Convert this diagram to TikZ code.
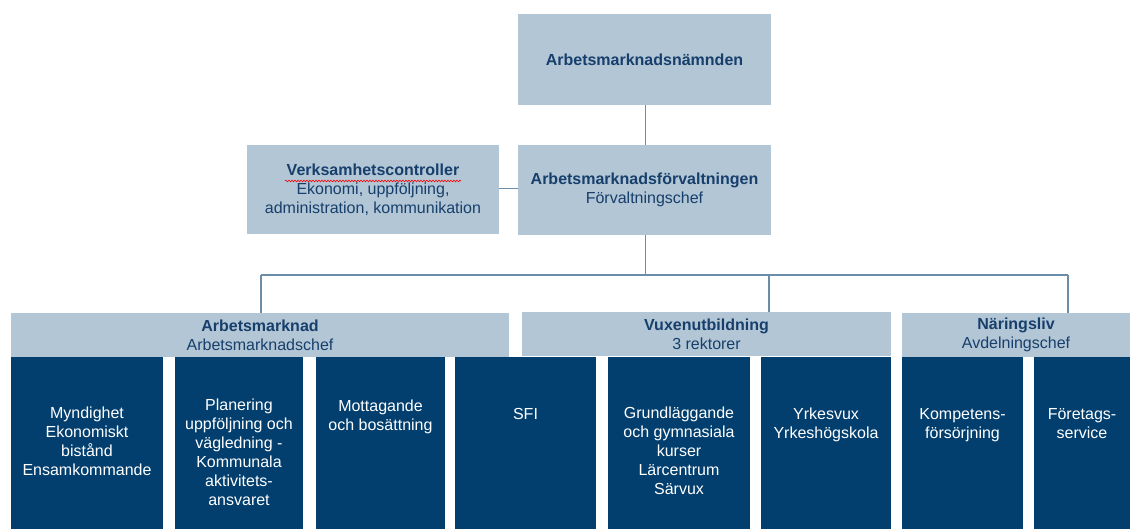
\documentclass[tikz,border=0pt]{standalone}
\usepackage{fontspec}
\setmainfont{Liberation Sans}
\usetikzlibrary{decorations.pathmorphing}
\definecolor{lightbox}{HTML}{B2C6D5}
\definecolor{darkbox}{HTML}{023F6E}
\definecolor{navytext}{HTML}{173F6C}
\definecolor{linkcol}{HTML}{6A8DAA}
\begin{document}
\begin{tikzpicture}[x=1pt,y=-1pt,
  lbox/.style={fill=lightbox,draw=none,inner sep=0pt,text=navytext,align=center,
    font=\fontsize{16}{19}\selectfont},
  dbox/.style={fill=darkbox,draw=none,inner sep=0pt,minimum height=172pt},
  dtext/.style={anchor=north,inner sep=0pt,text=white,align=center,
    font=\fontsize{16}{19}\selectfont},
  link/.style={draw=linkcol,line width=1.8pt},
  squiggle/.style={draw=red,line width=0.6pt,decorate,
    decoration={snake,amplitude=0.8pt,segment length=3pt}}]
\useasboundingbox (0,0) rectangle (1130,529);
% top level
\node[lbox,minimum width=253pt,minimum height=91pt] (nam) at (644.5,59.5) {\textbf{Arbetsmarknadsnämnden}};
\node[lbox,minimum width=253pt,minimum height=90pt] (forv) at (644.5,190)
  {\textbf{Arbetsmarknadsförvaltningen}\\Förvaltningschef};
\node[lbox,minimum width=252pt,minimum height=89pt] (ctrl) at (373,189.5)
  {\textbf{Verksamhetscontroller}\\Ekonomi, uppföljning,\\administration, kommunikation};
% headers
\node[lbox,minimum width=498pt,minimum height=44pt] (h1) at (260,335) {\textbf{Arbetsmarknad}\\Arbetsmarknadschef};
\node[lbox,minimum width=369pt,minimum height=44pt] (h2) at (706.5,334) {\textbf{Vuxenutbildning}\\3 rektorer};
\node[lbox,minimum width=228pt,minimum height=44pt] (h3) at (1016,335) {\textbf{Näringsliv}\\Avdelningschef};
% dark boxes
\node[dbox,minimum width=152pt] (d1) at (87,443) {};
\node[dbox,minimum width=128pt] (d2) at (239,443) {};
\node[dbox,minimum width=129pt] (d3) at (380.5,443) {};
\node[dbox,minimum width=141pt] (d4) at (525.5,443) {};
\node[dbox,minimum width=142pt] (d5) at (679,443) {};
\node[dbox,minimum width=130pt] (d6) at (826,443) {};
\node[dbox,minimum width=121pt] (d7) at (962.5,443) {};
\node[dbox,minimum width=96pt] (d8) at (1082,443) {};
\node[dtext] (t1) at ([yshift=-50pt]d1.north) {Myndighet\\Ekonomiskt\\bistånd\\Ensamkommande};
\node[dtext] (t2) at ([yshift=-42pt]d2.north) {Planering\\uppföljning och\\vägledning -\\Kommunala\\aktivitets-\\ansvaret};
\node[dtext] (t3) at ([yshift=-43pt]d3.north) {Mottagande\\och bosättning};
\node[dtext] (t4) at ([yshift=-51pt]d4.north) {SFI};
\node[dtext] (t5) at ([yshift=-50pt]d5.north) {Grundläggande\\och gymnasiala\\kurser\\Lärcentrum\\Särvux};
\node[dtext] (t6) at ([yshift=-51pt]d6.north) {Yrkesvux\\Yrkeshögskola};
\node[dtext] (t7) at ([yshift=-51pt]d7.north) {Kompetens-\\försörjning};
\node[dtext] (t8) at ([yshift=-51pt]d8.north) {Företags-\\service};
% spell-check squiggle
\coordinate (sqa) at (285,181);
\coordinate (sqb) at (461,181);
\draw[squiggle] (sqa) -- (sqb);
% connectors
\coordinate (j) at (645.5,275);
\coordinate (b1) at (261,275);
\coordinate (b2) at (769,275);
\coordinate (b3) at (1068,275);
\draw[link] ([xshift=1pt]nam.south) -- ([xshift=1pt]forv.north);
\draw[link] ([yshift=1pt]ctrl.east) -- ([yshift=1pt]ctrl.east -| forv.west);
\draw[link] ([xshift=1pt]forv.south) -- (j);
\draw[link] (b1) -- (b3);
\draw[link] (b1) -- (b1 |- h1.north);
\draw[link] (b2) -- (b2 |- h2.north);
\draw[link] (b3) -- (b3 |- h3.north);
\end{tikzpicture}
\end{document}
